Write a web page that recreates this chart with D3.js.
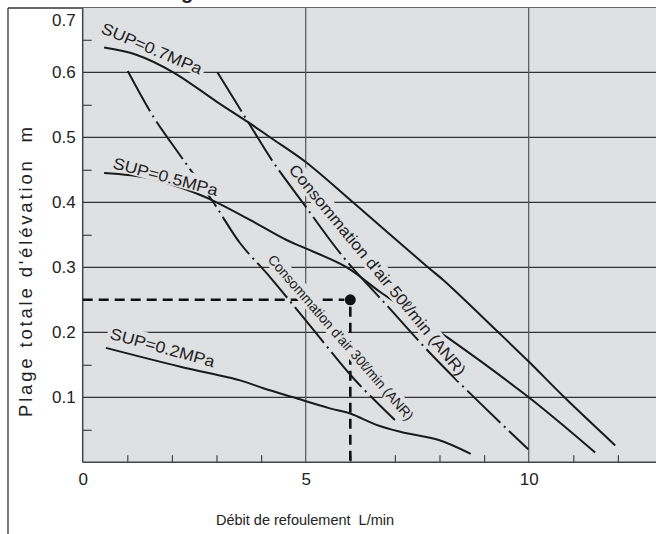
<!DOCTYPE html>
<html><head><meta charset="utf-8">
<script src="https://cdn.jsdelivr.net/npm/d3@7"></script>
<style>
body{margin:0;background:#fff}
svg{display:block}
text{font-family:"Liberation Sans",Arial,Helvetica,sans-serif;fill:#222}
</style>
</head><body>
<svg id="c" width="656" height="534"></svg>
<script>
// ---- data ----
const xTicks = [0, 5, 10];
const yTicks = [0.1, 0.2, 0.3, 0.4, 0.5, 0.6, 0.7];
const xMinor = [1, 2, 3, 4, 6, 7, 8, 9, 11, 12];
const yMinor = [0.05, 0.15, 0.25, 0.35, 0.45, 0.55, 0.65];

const sup07X = [0.48, 1.2, 2.03, 3.0, 3.8, 4.2, 5.0, 6.06, 7.74, 8.09, 9.32, 10.0, 10.8, 11.94];
const sup07Y = [0.638, 0.627, 0.600, 0.555, 0.519, 0.500, 0.462, 0.400, 0.300, 0.280, 0.200, 0.155, 0.100, 0.026];

const sup05X = [0.48, 1.5, 2.5, 3.0, 3.75, 4.57, 5.0, 5.92, 6.67, 8.2, 10.0, 11.49];
const sup05Y = [0.445, 0.437, 0.415, 0.400, 0.373, 0.342, 0.329, 0.300, 0.262, 0.191, 0.100, 0.015];

const sup02X = [0.52, 2.19, 3.53, 4.05, 4.72, 5.54, 6.0, 6.57, 7.12, 8.0, 8.7];
const sup02Y = [0.176, 0.147, 0.126, 0.114, 0.100, 0.083, 0.075, 0.058, 0.047, 0.034, 0.013];

const air50X = [3.02, 3.75, 4.27, 4.95, 5.84, 6.85, 7.83, 8.91, 9.99];
const air50Y = [0.600, 0.519, 0.462, 0.398, 0.316, 0.239, 0.165, 0.091, 0.020];

const air30X = [1.01, 1.58, 2.0, 2.93, 3.53, 4.2, 5.17, 6.1, 7.0];
const air30Y = [0.602, 0.532, 0.490, 0.400, 0.337, 0.285, 0.204, 0.127, 0.065];

const refX = 6, refY = 0.25;

const supLabels = ["SUP=0.7MPa", "SUP=0.5MPa", "SUP=0.2MPa"];
const airLabels = ["Consommation d'air 50\u2113/min (ANR)", "Consommation d'air 30\u2113/min (ANR)"];
const xTitle = "Débit de refoulement  L/min";
const yTitle = "Plage totale d'élévation  m";

// ---- layout ----
const BG = "#dfe0e2";
const x0 = 82.7, xR = 656, yTop = 8, yBot = 462.3;
const x = d3.scaleLinear().domain([0, 13]).range([x0, x0 + 13 * 44.6]);
const y = d3.scaleLinear().domain([0, 0.7]).range([yBot, yBot - 7 * 65]);

const svg = d3.select("#c");
svg.append("rect").attr("width", 656).attr("height", 534).attr("fill", "#fff");

// clipped title fragment
svg.append("text").attr("x", 181).attr("y", -1).attr("font-size", 20)
  .attr("font-weight", "bold").text("g");

// outer frame
svg.append("line").attr("x1", 8).attr("y1", 8).attr("x2", 656).attr("y2", 8)
  .attr("stroke", "#333").attr("stroke-width", 1.3);
svg.append("line").attr("x1", 8).attr("y1", 8).attr("x2", 8).attr("y2", 534)
  .attr("stroke", "#333").attr("stroke-width", 1.3);

// plot background
svg.append("rect").attr("x", x0).attr("y", yTop).attr("width", xR - x0).attr("height", yBot - yTop)
  .attr("fill", BG);

// grid
const grid = svg.append("g");
grid.selectAll("line.h").data(yTicks.filter(d => d < 0.7)).join("line")
  .attr("x1", x0).attr("x2", xR).attr("y1", d => y(d)).attr("y2", d => y(d))
  .attr("stroke", "#333").attr("stroke-width", 1.2);
grid.selectAll("line.v").data(xTicks.filter(d => d > 0)).join("line")
  .attr("y1", yTop).attr("y2", yBot).attr("x1", d => x(d)).attr("x2", d => x(d))
  .attr("stroke", "#555").attr("stroke-width", 1.2);

// minor ticks
const ym = svg.append("g").attr("transform", `translate(${x0},0)`)
  .call(d3.axisLeft(y).tickValues(yMinor).tickSize(-9).tickFormat(""));
ym.select(".domain").remove();
ym.selectAll("line").attr("stroke", "#444").attr("stroke-width", 1.2);
const xm = svg.append("g").attr("transform", `translate(0,${yBot})`)
  .call(d3.axisBottom(x).tickValues(xMinor).tickSize(-7).tickFormat(""));
xm.select(".domain").remove();
xm.selectAll("line").attr("stroke", "#444").attr("stroke-width", 1.2);

// axis lines
svg.append("line").attr("x1", x0).attr("x2", x0).attr("y1", yTop).attr("y2", yBot)
  .attr("stroke", "#444").attr("stroke-width", 1.5);
svg.append("line").attr("x1", x0).attr("x2", xR).attr("y1", yBot).attr("y2", yBot)
  .attr("stroke", "#444").attr("stroke-width", 1.5);

// tick labels
const yl = svg.append("g").attr("transform", `translate(${x0},0)`)
  .call(d3.axisLeft(y).tickValues(yTicks).tickSize(0).tickPadding(7).tickFormat(d3.format(".1f")));
yl.select(".domain").remove();
yl.selectAll("text").attr("font-size", 17).attr("fill", "#222").style("font-family", null);
yl.selectAll(".tick").filter(d => d === 0.7).select("text").attr("dy", "1.05em");
const xl = svg.append("g").attr("transform", `translate(0,${yBot})`)
  .call(d3.axisBottom(x).tickValues(xTicks).tickSize(0).tickPadding(11).tickFormat(d3.format("d")));
xl.select(".domain").remove();
xl.selectAll("text").attr("font-size", 17).attr("fill", "#222").style("font-family", null);

// axis titles
svg.append("text").attr("x", 305).attr("y", 525).attr("text-anchor", "middle")
  .attr("font-size", 14.5).style("white-space", "pre").text(xTitle);
svg.append("text").attr("transform", "translate(32,272) rotate(-90)").attr("text-anchor", "middle")
  .attr("font-size", 18.5).attr("textLength", 290).attr("lengthAdjust", "spacing")
  .style("white-space", "pre").text(yTitle);

// curves
const line = d3.line().x(d => x(d[0])).y(d => y(d[1])).curve(d3.curveCatmullRom.alpha(0.5));
const zip = (a, b) => a.map((v, i) => [v, b[i]]);
const curves = svg.append("g").attr("fill", "none").attr("stroke", "#1a1a1a").attr("stroke-width", 2);
[[sup07X, sup07Y], [sup05X, sup05Y], [sup02X, sup02Y]].forEach(([a, b]) =>
  curves.append("path").attr("d", line(zip(a, b))));
[[air50X, air50Y], [air30X, air30Y]].forEach(([a, b]) =>
  curves.append("path").attr("d", line(zip(a, b))).attr("stroke-dasharray", "46,5,2,5"));

// reference dashed lines
const ref = svg.append("g").attr("stroke", "#111").attr("stroke-width", 2.6).attr("stroke-dasharray", "10,6");
ref.append("line").attr("x1", x(0)).attr("x2", x(refX) - 6).attr("y1", y(refY)).attr("y2", y(refY));
ref.append("line").attr("x1", x(refX)).attr("x2", x(refX)).attr("y1", y(refY) + 7).attr("y2", y(0));

// labels with masking box
function label(txt, px, py, ang, fs, len, padT, padB) {
  const g = svg.append("g").attr("transform", `translate(${px},${py}) rotate(${ang})`);
  g.append("rect").attr("x", -3).attr("y", -fs * 0.76 - padT).attr("width", len + 6)
    .attr("height", fs * 0.76 + padT + padB).attr("fill", BG);
  g.append("text").attr("font-size", fs).attr("textLength", len)
    .attr("lengthAdjust", "spacingAndGlyphs").text(txt);
}
label(supLabels[0], 100, 32.5, 23, 16, 108, 4, 1.5);
label(supLabels[1], 112, 168, 15, 16, 108, 4, 1.5);
label(supLabels[2], 109, 338.5, 15.5, 16, 108, 4, 1.5);
label(airLabels[0], 288, 170, 50.5, 16, 268, 3, 3);
label(airLabels[1], 267, 260, 49, 14, 214, 3, 3);

// reference point
svg.append("circle").attr("cx", x(refX)).attr("cy", y(refY)).attr("r", 5.5).attr("fill", "#111");
</script>
</body></html>
